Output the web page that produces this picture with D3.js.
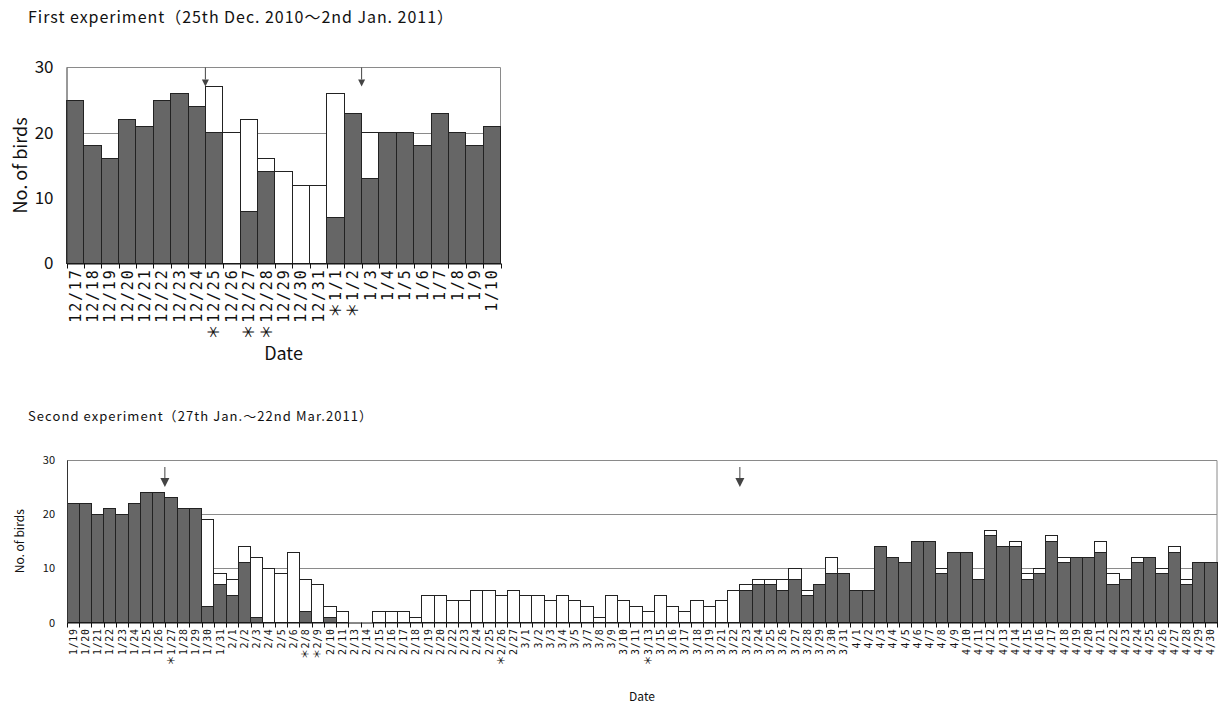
<!DOCTYPE html>
<html>
<head>
<meta charset="utf-8">
<script src="https://cdn.jsdelivr.net/npm/d3@7"></script>
<style>
  body { margin: 0; background: #fff; }
</style>
</head>
<body>
<svg id="chart" width="1218" height="707"></svg>
<script>
// first experiment data
const dates1 = ["12/17","12/18","12/19","12/20","12/21","12/22","12/23","12/24","12/25","12/26",
  "12/27","12/28","12/29","12/30","12/31","1/1","1/2","1/3","1/4","1/5","1/6","1/7","1/8","1/9","1/10"];
const marked1 = ["12/25","12/27","12/28","1/1","1/2"];
const dark1  = [25,18,16,22,21,25,26,24,20, 0, 8,14, 0, 0, 0, 7,23,13,20,20,18,23,20,18,21];
const total1 = [25,18,16,22,21,25,26,24,27,20,22,16,14,12,12,26,23,20,20,20,18,23,20,18,21];
const arrows1 = ["12/25","1/3"];

// second experiment data
const dates2 = ["1/19","1/20","1/21","1/22","1/23","1/24","1/25","1/26","1/27","1/28","1/29","1/30","1/31",
  "2/1","2/2","2/3","2/4","2/5","2/6","2/8","2/9","2/10","2/11","2/13","2/14","2/15","2/16","2/17","2/18",
  "2/19","2/20","2/22","2/23","2/24","2/25","2/26","2/27","3/1","3/2","3/3","3/4","3/5","3/7","3/8","3/9",
  "3/10","3/11","3/13","3/15","3/16","3/17","3/18","3/19","3/21","3/22","3/23","3/24","3/25","3/26","3/27",
  "3/28","3/29","3/30","3/31","4/1","4/2","4/3","4/4","4/5","4/6","4/7","4/8","4/9","4/10","4/11","4/12",
  "4/13","4/14","4/15","4/16","4/17","4/18","4/19","4/20","4/21","4/22","4/23","4/24","4/25","4/26","4/27",
  "4/28","4/29","4/30"];
const marked2 = ["1/27","2/8","2/9","2/26","3/13"];
const dark2 = [22,22,20,21,20,22,24,24,23,21,21,3,7,
  5,11,1,0,0,0,2,0,1,0,0,0,0,0,0,0,
  0,0,0,0,0,0,0,0,0,0,0,0,0,0,0,0,
  0,0,0,0,0,0,0,0,0,0,6,7,7,6,8,
  5,7,9,9,6,6,14,12,11,15,15,9,13,13,8,16,
  14,14,8,9,15,11,12,12,13,7,8,11,12,9,13,
  7,11,11];
const total2 = [22,22,20,21,20,22,24,24,23,21,21,19,9,
  8,14,12,10,9,13,8,7,3,2,0,0,2,2,2,1,
  5,5,4,4,6,6,5,6,5,5,4,5,4,3,1,5,
  4,3,2,5,3,2,4,3,4,6,7,8,8,8,10,
  6,7,12,9,6,6,14,12,11,15,15,10,13,13,8,17,
  14,15,9,10,16,12,12,12,15,9,8,12,12,10,14,
  8,11,11];
const arrows2 = ["1/27","3/23"];

const yTicks = [0, 10, 20, 30];

const MONO = "'DejaVu Sans Mono', monospace";
const SANS = "'Noto Sans CJK JP', 'Noto Sans', sans-serif";
const DARK = "#666666";

const svg = d3.select("#chart");

function drawPanel(o) {
  const x = d3.scaleBand().domain(o.dates).range([o.left, o.right]);
  const y = d3.scaleLinear().domain([0, 30]).range([o.yBottom, o.yTop]);
  const g = svg.append("g");

  // title
  g.append("text")
    .attr("x", 28).attr("y", o.titleY)
    .attr("textLength", o.titleLen).attr("lengthAdjust", "spacing")
    .style("font-family", SANS).style("font-size", o.titleSize + "px")
    .attr("fill", "#111")
    .text(o.title);

  // gridlines
  g.selectAll(".grid").data([10, 20]).enter().append("line")
    .attr("x1", o.left).attr("x2", o.right)
    .attr("y1", d => Math.round(y(d)) + 0.5).attr("y2", d => Math.round(y(d)) + 0.5)
    .attr("stroke", "#8a8a8a");

  // frame top and right
  g.append("path")
    .attr("d", `M${o.left},${Math.round(y(30)) + 0.5}H${o.right}V${y(0)}`)
    .attr("fill", "none").attr("stroke", "#8a8a8a");

  const rows = o.dates.map((d, i) => ({ date: d, dark: o.dark[i], total: o.total[i] }));

  // white (total) bars
  g.selectAll(".tot").data(rows.filter(r => r.total > r.dark)).enter().append("rect")
    .attr("x", r => x(r.date)).attr("width", x.bandwidth())
    .attr("y", r => y(r.total)).attr("height", r => y(0) - y(r.total))
    .attr("fill", "#fff").attr("stroke", "#222").attr("stroke-width", 1)
    .attr("shape-rendering", "crispEdges");

  // dark bars
  g.selectAll(".drk").data(rows.filter(r => r.dark > 0)).enter().append("rect")
    .attr("x", r => x(r.date)).attr("width", x.bandwidth())
    .attr("y", r => y(r.dark)).attr("height", r => y(0) - y(r.dark))
    .attr("fill", DARK).attr("stroke", "#222").attr("stroke-width", 1)
    .attr("shape-rendering", "crispEdges");

  // x axis with rotated labels
  const xAxis = g.append("g")
    .attr("transform", `translate(0,${y(0)})`)
    .call(d3.axisBottom(x).tickSize(0).tickSizeOuter(0));
  xAxis.select(".domain").attr("stroke", "#111");
  xAxis.selectAll(".tick text")
    .attr("transform", "rotate(-90)")
    .attr("x", -o.labelGap).attr("y", 0).attr("dy", "0.36em")
    .attr("text-anchor", "end")
    .style("font-family", MONO).style("font-size", o.tickSize + "px")
    .style("letter-spacing", o.tickSpacing + "px")
    .attr("fill", "#111")
    .each(function(d) {
      const t = d3.select(this).text(null);
      if (o.marked.includes(d)) {
        t.append("tspan").style("font-family", SANS).text("＊");
      }
      t.append("tspan").text(d);
    });

  // tick marks at band boundaries
  const bounds = o.dates.map(d => x(d)).concat([o.right]);
  g.selectAll(".btick").data(bounds).enter().append("line")
    .attr("x1", d => Math.round(d) + 0.5).attr("x2", d => Math.round(d) + 0.5)
    .attr("y1", y(0)).attr("y2", y(0) + o.tickLen)
    .attr("stroke", "#111");

  // y axis
  const yAxis = g.append("g")
    .attr("transform", `translate(${o.left},0)`)
    .call(d3.axisLeft(y).tickValues(yTicks).tickSize(0).tickSizeOuter(0).tickPadding(o.yPad));
  yAxis.select(".domain").attr("stroke", "#333");
  yAxis.selectAll(".tick text")
    .style("font-family", SANS).style("font-size", o.yFont + "px").attr("fill", "#111");

  // arrows
  arrows(g, o.arrows.map(a => x(a)), o);

  // axis titles
  g.append("text")
    .attr("transform", `translate(${o.ylabX},${(y(0) + y(30)) / 2}) rotate(-90)`)
    .attr("text-anchor", "middle").attr("dominant-baseline", "central")
    .style("font-family", SANS).style("font-size", o.axisTitleSize + "px").attr("fill", "#111")
    .text("No. of birds");
  g.append("text")
    .attr("x", (o.left + o.right) / 2).attr("y", o.dateY)
    .attr("text-anchor", "middle")
    .style("font-family", SANS).style("font-size", o.axisTitleSize + "px").attr("fill", "#111")
    .text("Date");
}

function arrows(g, xs, o) {
  g.selectAll(".arr-line").data(xs).enter().append("line")
    .attr("x1", d => d).attr("x2", d => d)
    .attr("y1", o.arrowTop).attr("y2", o.arrowTop + o.arrowLine)
    .attr("stroke", "#444");
  g.selectAll(".arr-head").data(xs).enter().append("path")
    .attr("d", d => {
      const t = o.arrowTop + o.arrowLine, h = o.arrowHead;
      return `M${d - h / 2},${t}L${d + h / 2},${t}L${d},${t + h}Z`;
    })
    .attr("fill", "#444");
}

drawPanel({
  dates: dates1, marked: marked1, dark: dark1, total: total1, arrows: arrows1,
  left: 66.5, right: 500.5, yTop: 67.3, yBottom: 263.5,
  title: "First experiment（25th Dec. 2010〜2nd Jan. 2011）", titleY: 23, titleSize: 16, titleLen: 425,
  tickSize: 15, tickSpacing: 1.8, labelGap: 5, tickLen: 5, yFont: 17, yPad: 13,
  arrowTop: 67.5, arrowLine: 12, arrowHead: 7,
  ylabX: 19, axisTitleSize: 18, dateY: 360
});

drawPanel({
  dates: dates2, marked: marked2, dark: dark2, total: total2, arrows: arrows2,
  left: 67, right: 1217, yTop: 460, yBottom: 622.5,
  title: "Second experiment（27th Jan.〜22nd Mar.2011）", titleY: 421, titleSize: 13, titleLen: 344,
  tickSize: 10, tickSpacing: 0.6, labelGap: 6, tickLen: 5, yFont: 11, yPad: 12,
  arrowTop: 467, arrowLine: 11, arrowHead: 9,
  ylabX: 18, axisTitleSize: 12, dateY: 701
});
</script>
</body>
</html>
